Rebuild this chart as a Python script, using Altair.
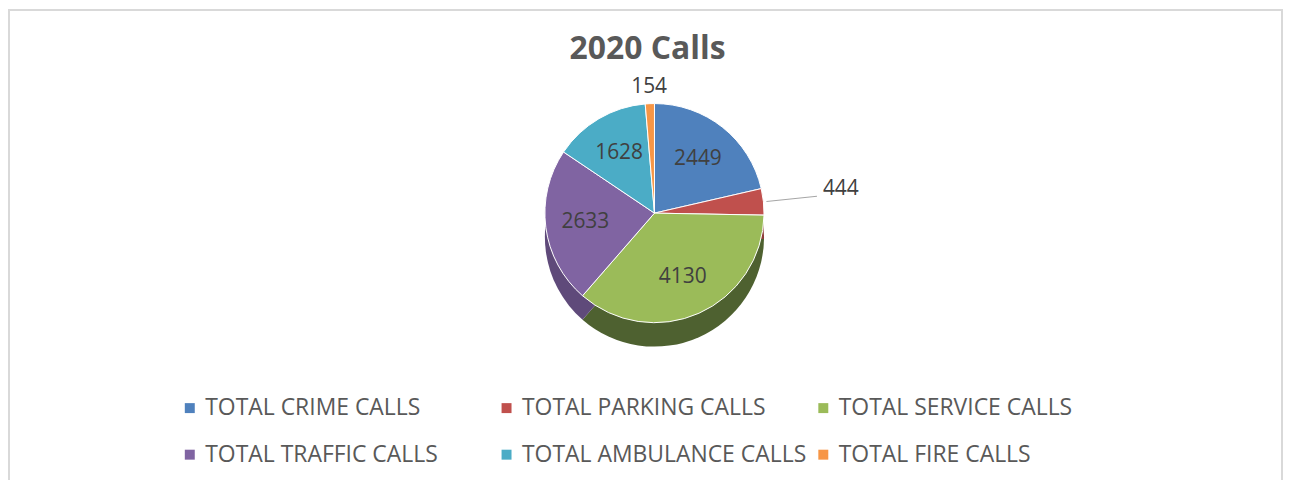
import math
import altair as alt
import pandas as pd

# ---- data ----
categories = ["TOTAL CRIME CALLS", "TOTAL PARKING CALLS", "TOTAL SERVICE CALLS",
              "TOTAL TRAFFIC CALLS", "TOTAL AMBULANCE CALLS", "TOTAL FIRE CALLS"]
values = [2449, 444, 4130, 2633, 1628, 154]
title_text = ["2020 Calls"]

# ---- styles ----
top_colors = ["#4F81BD", "#C0504D", "#9BBB59", "#8064A2", "#4BACC6", "#F79646"]
side_colors = ["#3A5F8E", "#8E3B39", "#4E6130", "#5F4A7A", "#36809A", "#B86F33"]
FONT = "Open Sans"
W, H = 1280, 473
CX, CY = 649, 205
R = 110
DEPTH = 24

df = pd.DataFrame({"category": categories, "value": values, "idx": list(range(len(values)))})
total = int(df["value"].sum())

# legend is laid out column by column: reorder so rows read like the reference
legend_pos = [0, 3, 1, 4, 2, 5]
legend_domain = [categories[i] for i in legend_pos]
legend_top = [top_colors[i] for i in legend_pos]
legend_side = [side_colors[i] for i in legend_pos]

theta_scale = alt.Scale(domain=[0, total], range=[0, 2 * math.pi])

base = alt.Chart(df).transform_window(
    cum="sum(value)", sort=[alt.SortField("idx")], frame=[None, 0]
).transform_calculate(
    start="datum.cum - datum.value", mid="datum.cum - datum.value / 2"
)

side = base.mark_arc(outerRadius=R).encode(
    theta=alt.Theta("start:Q", scale=theta_scale), theta2="cum:Q",
    x=alt.value(CX), y=alt.value(CY + DEPTH),
    color=alt.Color("category:N", scale=alt.Scale(domain=legend_domain, range=legend_side), legend=None),
)

top = base.mark_arc(outerRadius=R, stroke="white", strokeWidth=1).encode(
    theta=alt.Theta("start:Q", scale=theta_scale), theta2="cum:Q",
    x=alt.value(CX), y=alt.value(CY),
    color=alt.Color(
        "category:N",
        scale=alt.Scale(domain=legend_domain, range=legend_top),
        legend=alt.Legend(
            title=None, orient="none", legendX=171, legendY=389, columns=3,
            symbolType="square", symbolSize=100, symbolStrokeWidth=0,
            labelFont=FONT, labelFontSize=23, labelColor="#595959", labelLimit=0,
            labelOffset=4, columnPadding=5, rowPadding=23, gridAlign="all",
        ),
    ),
)

def label_layer(radius, cond, **kw):
    return base.transform_filter(cond).mark_text(
        radius=radius, font=FONT, fontSize=21, color="#404040", **kw
    ).encode(
        theta=alt.Theta("mid:Q", scale=theta_scale),
        x=alt.value(CX), y=alt.value(CY), text="value:Q",
    )

inner_labels = label_layer(70, alt.datum.value > 500)
outer_labels = label_layer(R + 17, alt.datum.value < 200)
parking_label = label_layer(R + 60, (alt.datum.value > 200) & (alt.datum.value < 500),
                            align="left", dy=-7)

leader = base.transform_filter(
    (alt.datum.value > 200) & (alt.datum.value < 500)
).mark_arc(innerRadius=R + 3, outerRadius=R + 54, stroke="#A6A6A6", strokeWidth=1.2,
           fillOpacity=0).encode(
    theta=alt.Theta("mid:Q", scale=theta_scale), theta2="mid:Q",
    x=alt.value(CX), y=alt.value(CY),
)

title = alt.Chart(pd.DataFrame({"t": title_text})).mark_text(
    font=FONT, fontSize=32, fontWeight="bold", color="#595959"
).encode(x=alt.value(642), y=alt.value(40), text="t:N")

border_df = pd.DataFrame({"a": [0]})
border = alt.layer(
    alt.Chart(border_df).mark_rule(color="#D9D9D9", strokeWidth=2).encode(x=alt.value(1), y=alt.value(0), y2=alt.value(H)),
    alt.Chart(border_df).mark_rule(color="#D9D9D9", strokeWidth=2).encode(x=alt.value(0), x2=alt.value(W), y=alt.value(1)),
    alt.Chart(border_df).mark_rule(color="#D9D9D9", strokeWidth=2).encode(x=alt.value(W - 1), y=alt.value(0), y2=alt.value(H)),
)

chart = alt.layer(side, top, inner_labels, outer_labels, parking_label, leader, title, border).resolve_scale(
    color="independent"
).properties(
    width=W, height=H, padding=0, autosize=alt.AutoSizeParams(type="none"),
).configure_view(stroke=None)

chart.save("out.html", embed_options={"renderer": "svg", "actions": False})
